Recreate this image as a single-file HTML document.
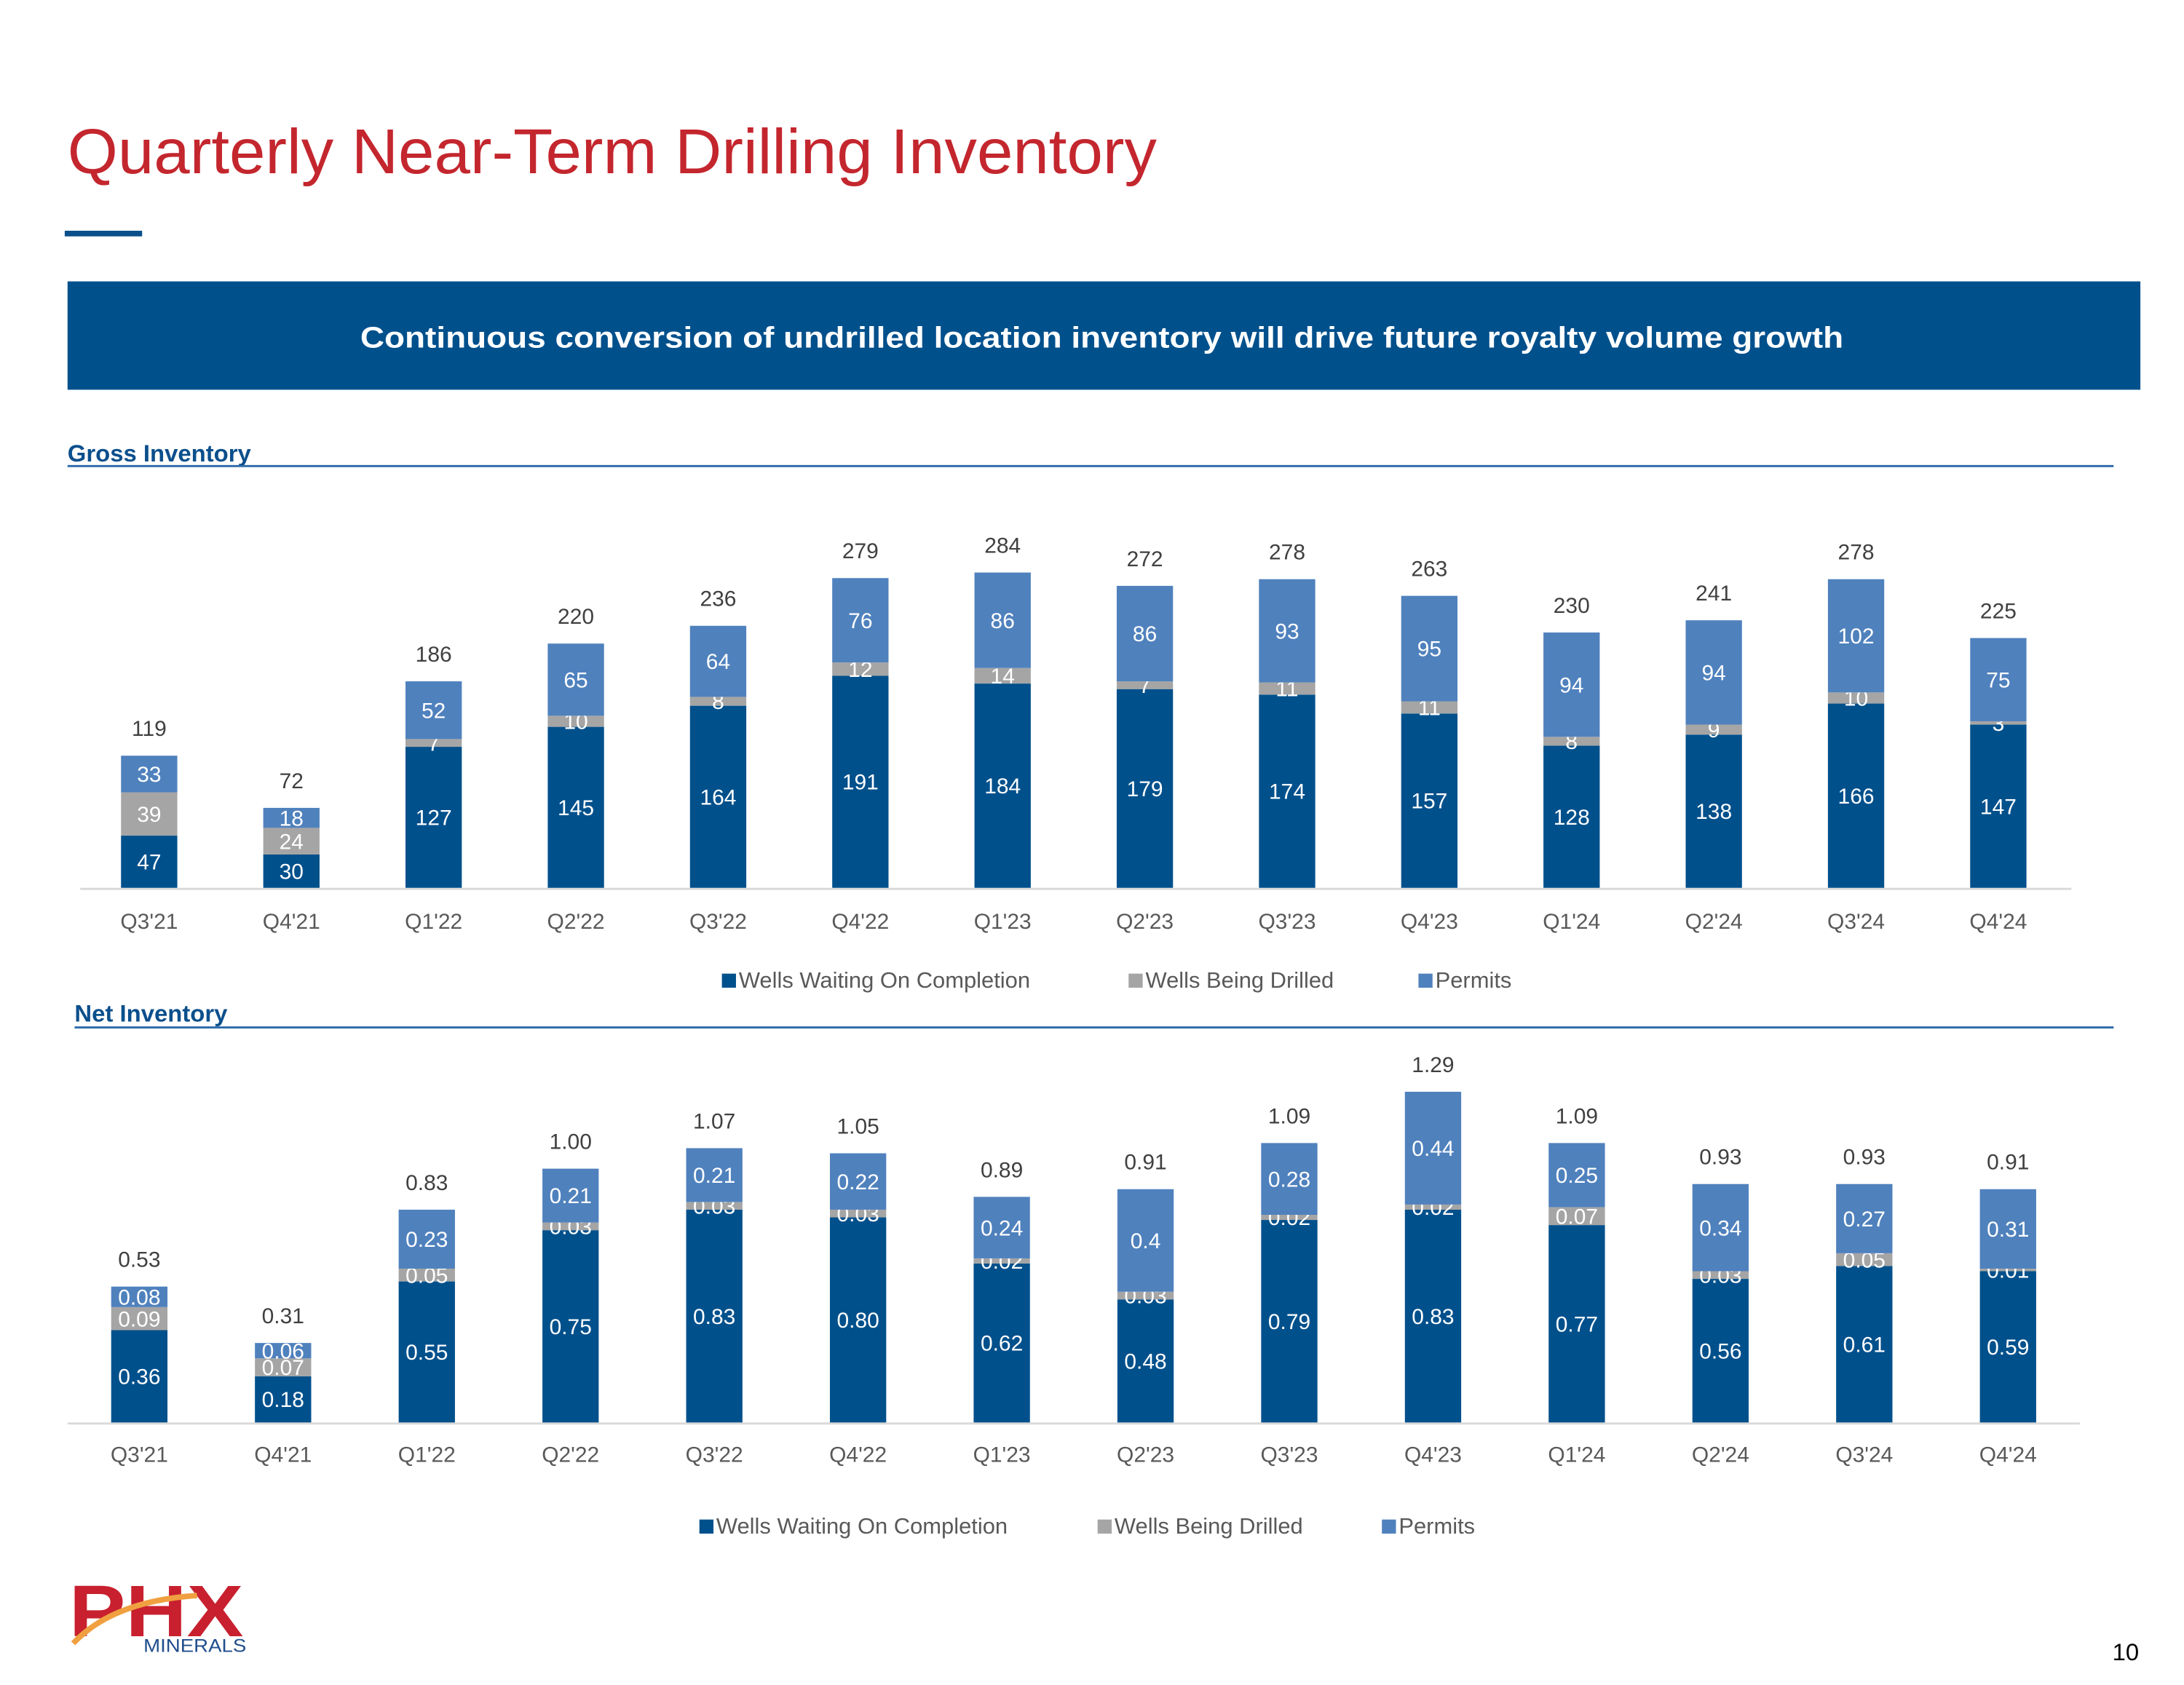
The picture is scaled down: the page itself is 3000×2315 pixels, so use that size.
<!DOCTYPE html>
<html><head><meta charset="utf-8"><style>
html,body{margin:0;padding:0;background:#fff;}
svg{display:block;font-family:"Liberation Sans",Arial,sans-serif;}
</style></head><body>
<svg id="root" width="3000" height="2315" viewBox="0 0 1552 1197.6" preserveAspectRatio="none" xmlns="http://www.w3.org/2000/svg">
  <text x="48" y="123" font-size="45" fill="#C4262E" textLength="774" lengthAdjust="spacingAndGlyphs">Quarterly Near-Term Drilling Inventory</text>
  <rect x="46" y="164" width="55" height="4" fill="#0B4F8C"/>
  <rect x="48" y="200" width="1473" height="77" fill="#00508C"/>
  <text x="783" y="247" font-size="21" font-weight="bold" fill="#fff" text-anchor="middle" textLength="1054" lengthAdjust="spacingAndGlyphs">Continuous conversion of undrilled location inventory will drive future royalty volume growth</text>

  <text x="48" y="328" font-size="17" font-weight="bold" fill="#0B4F8C">Gross Inventory</text>
  <rect x="48" y="330.5" width="1454" height="1.5" fill="#2E6AA8"/>
  <g id="gross"></g>

  <text x="53" y="726" font-size="17" font-weight="bold" fill="#0B4F8C">Net Inventory</text>
  <rect x="53" y="729.5" width="1449" height="1.5" fill="#2E6AA8"/>
  <g id="net"></g>

  <g>
    <text x="49" y="1163" font-size="52" font-weight="bold" fill="#C8202F" textLength="124" lengthAdjust="spacingAndGlyphs">PHX</text>
    <path d="M52 1168 Q80 1138 140 1134" stroke="#F0A040" stroke-width="4" fill="none"/>
    <text x="102" y="1174" font-size="13" fill="#1F4E8C" textLength="73" lengthAdjust="spacingAndGlyphs">MINERALS</text>
  </g>
  <text x="1520" y="1180" font-size="17" fill="#000" text-anchor="end">10</text>
</svg>
<script>
const categories = ["Q3'21","Q4'21","Q1'22","Q2'22","Q3'22","Q4'22","Q1'23","Q2'23","Q3'23","Q4'23","Q1'24","Q2'24","Q3'24","Q4'24"];
const grossWaiting = [47,30,127,145,164,191,184,179,174,157,128,138,166,147];
const grossDrilling = [39,24,7,10,8,12,14,7,11,11,8,9,10,3];
const grossPermits = [33,18,52,65,64,76,86,86,93,95,94,94,102,75];
const grossTotalLabels = ["119","72","186","220","236","279","284","272","278","263","230","241","278","225"];
const netWaiting = [0.36,0.18,0.55,0.75,0.83,0.80,0.62,0.48,0.79,0.83,0.77,0.56,0.61,0.59];
const netDrilling = [0.09,0.07,0.05,0.03,0.03,0.03,0.02,0.03,0.02,0.02,0.07,0.03,0.05,0.01];
const netPermits = [0.08,0.06,0.23,0.21,0.21,0.22,0.24,0.4,0.28,0.44,0.25,0.34,0.27,0.31];
const netTotalLabels = ["0.53","0.31","0.83","1.00","1.07","1.05","0.89","0.91","1.09","1.29","1.09","0.93","0.93","0.91"];
const seriesNames = ["Wells Waiting On Completion","Wells Being Drilled","Permits"];
const colors = ["#00508C","#A5A5A5","#4F81BD"];
const NS = "http://www.w3.org/2000/svg";
function mk(tag, attrs, parent){const e=document.createElementNS(NS,tag);for(const k in attrs)e.setAttribute(k,attrs[k]);parent.appendChild(e);return e;}

function drawChart(g, cfg, series, fmtSeg, totLabels, prefix){
  const x = i => cfg.x0 + i*cfg.step;
  const y = v => cfg.base - v*cfg.scale;
  const ax = mk('rect',{x:cfg.axL,y:cfg.base,width:cfg.axR-cfg.axL,height:1.5,fill:'#D9D9D9'},g);
  
  
  categories.forEach((c,i)=>{
    let acc=0;
    series.forEach((s,k)=>{
      const v=s[i];
      const r=mk('rect',{x:x(i)-20,y:y(acc+v),width:40,height:v*cfg.scale,fill:colors[k]},g);
      
      
      const t=mk('text',{x:x(i),y:(y(acc+v)+y(acc))/2+5.5,'font-size':15.5,fill:'#fff','text-anchor':'middle'},g);
      t.textContent=fmtSeg(v,k);
      
      
      acc+=v;
    });
    const tt=mk('text',{x:x(i),y:y(acc)-14,'font-size':15.5,fill:'#404040','text-anchor':'middle'},g);
    tt.textContent=totLabels[i];
    
    
    const cl=mk('text',{x:x(i),y:cfg.catY,'font-size':15.5,fill:'#595959','text-anchor':'middle'},g);
    cl.textContent=c;
    
    
  });
  seriesNames.forEach((n,k)=>{
    const lg=mk('g',{},g);
    
    
    mk('rect',{x:cfg.legX[k],y:cfg.legY-10,width:10,height:10,fill:colors[k]},lg);
    const lt=mk('text',{x:cfg.legX[k]+12,y:cfg.legY,'font-size':16,fill:'#595959'},lg);
    lt.textContent=n;
  });
}
drawChart(document.getElementById('gross'),
  {x0:106,step:101.08,base:631,scale:0.789,axL:57,axR:1472,catY:660,legY:702,legX:[513,802,1008]},
  [grossWaiting,grossDrilling,grossPermits], v=>String(v), grossTotalLabels, 'gross');
drawChart(document.getElementById('net'),
  {x0:99,step:102.15,base:1011,scale:182.2,axL:48,axR:1478,catY:1039,legY:1090,legX:[497,780,982]},
  [netWaiting,netDrilling,netPermits], (v,k)=>((k===2 && Math.round(v*100)%10===0)?v.toFixed(1):v.toFixed(2)), netTotalLabels, 'net');
</script>
</body></html>
